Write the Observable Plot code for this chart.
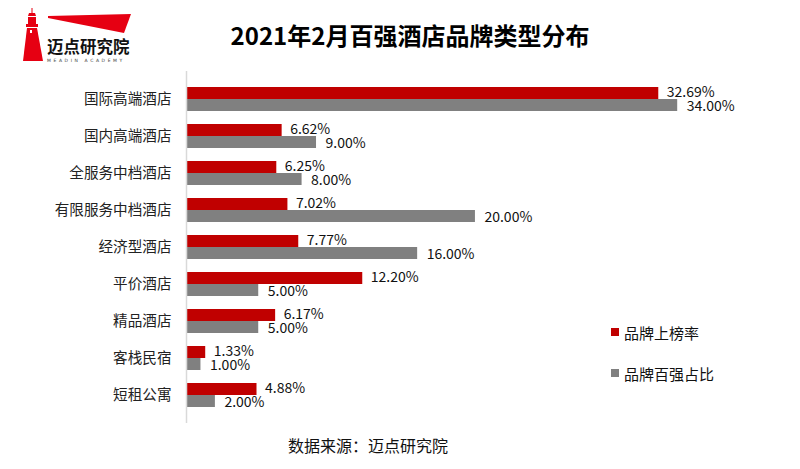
<!DOCTYPE html>
<html>
<head>
<meta charset="utf-8">
<script src="https://cdn.jsdelivr.net/npm/d3@7"></script>
<script src="https://cdn.jsdelivr.net/npm/@observablehq/plot@0.6"></script>
<style>
  html, body { margin: 0; padding: 0; background: #fff; }
  body { width: 800px; height: 469px; position: relative; overflow: hidden;
         font-family: "Noto Sans CJK SC", "Noto Sans", sans-serif; }
  #chart { position: absolute; left: 0; top: 0; }
  #title { position: absolute; left: 0; width: 820px; top: 20px; text-align: center;
           font-size: 24px; line-height: 30px; font-weight: bold; color: #000; }
  #logo { position: absolute; left: 0; top: 0; }
  #legend { position: absolute; left: 611px; top: 321px; font-size: 15px; color: #111; }
  #legend .item { display: flex; align-items: center; height: 22px; margin-bottom: 19px; }
  #legend .sw { width: 8px; height: 8px; margin-right: 5px; }
  #caption { position: absolute; left: 288px; top: 433px; font-size: 16px; line-height: 24px; color: #111; }
</style>
</head>
<body>
<div id="chart"></div>
<svg id="logo" width="150" height="70">
  <polygon points="48,16 131,14 124,33 48,18" fill="#e60012"/>
  <rect x="31.5" y="8" width="1" height="5" fill="#e60012"/>
  <polygon points="29,13 35,13 36,16 28,16" fill="#e60012"/>
  <rect x="28" y="17" width="8" height="7" fill="#e60012"/>
  <rect x="26" y="24" width="12" height="3" fill="#e60012"/>
  <polygon points="27,28 37,28 43,61 23,61" fill="#e60012"/>
  <rect x="30" y="30" width="2" height="3" fill="#fff"/>
  <text x="47" y="53" font-size="16.5" font-weight="bold" fill="#111" font-family="Noto Sans CJK SC">迈点研究院</text>
  <text x="47" y="62" font-size="4.5" fill="#444" letter-spacing="2.6" font-family="DejaVu Sans">MEADIN ACADEMY</text>
</svg>
<div id="title">2021年2月百强酒店品牌类型分布</div>
<div id="legend"></div>
<div id="caption">数据来源：迈点研究院</div>
<script>
const categories = ["国际高端酒店", "国内高端酒店", "全服务中档酒店", "有限服务中档酒店", "经济型酒店", "平价酒店", "精品酒店", "客栈民宿", "短租公寓"];
const seriesNames = ["品牌上榜率", "品牌百强占比"];
const listingRate = [32.69, 6.62, 6.25, 7.02, 7.77, 12.20, 6.17, 1.33, 4.88];
const top100Share = [34.00, 9.00, 8.00, 20.00, 16.00, 5.00, 5.00, 1.00, 2.00];
const colors = ["#C00000", "#808080"];

const redData = categories.map((c, i) => ({category: c, value: listingRate[i]}));
const grayData = categories.map((c, i) => ({category: c, value: top100Share[i]}));
const fmt = v => v.toFixed(2) + "%";

const chart = Plot.plot({
  width: 800,
  height: 469,
  marginLeft: 186,
  marginRight: 10,
  marginTop: 71,
  marginBottom: 46,
  style: {fontFamily: "'Noto Sans CJK SC', sans-serif", color: "#000"},
  x: {domain: [0, 42.5], range: [186, 800], axis: null},
  y: {domain: categories, padding: 0.362, axis: null},
  marks: [
    Plot.barX(redData, {x: "value", y: "category", fill: colors[0], insetBottom: 12}),
    Plot.barX(grayData, {x: "value", y: "category", fill: colors[1], insetTop: 12}),
    Plot.ruleX([0], {stroke: "#d9d9d9", strokeWidth: 1.5}),
    Plot.text(redData, {x: "value", y: "category", text: d => fmt(d.value), textAnchor: "start", dx: 8, dy: -7, fontSize: 14, fill: "#111"}),
    Plot.text(grayData, {x: "value", y: "category", text: d => fmt(d.value), textAnchor: "start", dx: 9, dy: 7.5, fontSize: 14, fill: "#111"}),
    Plot.text(categories, {y: d => d, frameAnchor: "left", textAnchor: "end", dx: -15, fontSize: 14.6, fill: "#222"})
  ]
});
document.getElementById("chart").appendChild(chart);

const legend = document.getElementById("legend");
seriesNames.forEach((n, i) => {
  const item = document.createElement("div");
  item.className = "item";
  item.innerHTML = `<span class="sw" style="background:${colors[i]}"></span><span>${n}</span>`;
  legend.appendChild(item);
});
</script>
</body>
</html>
